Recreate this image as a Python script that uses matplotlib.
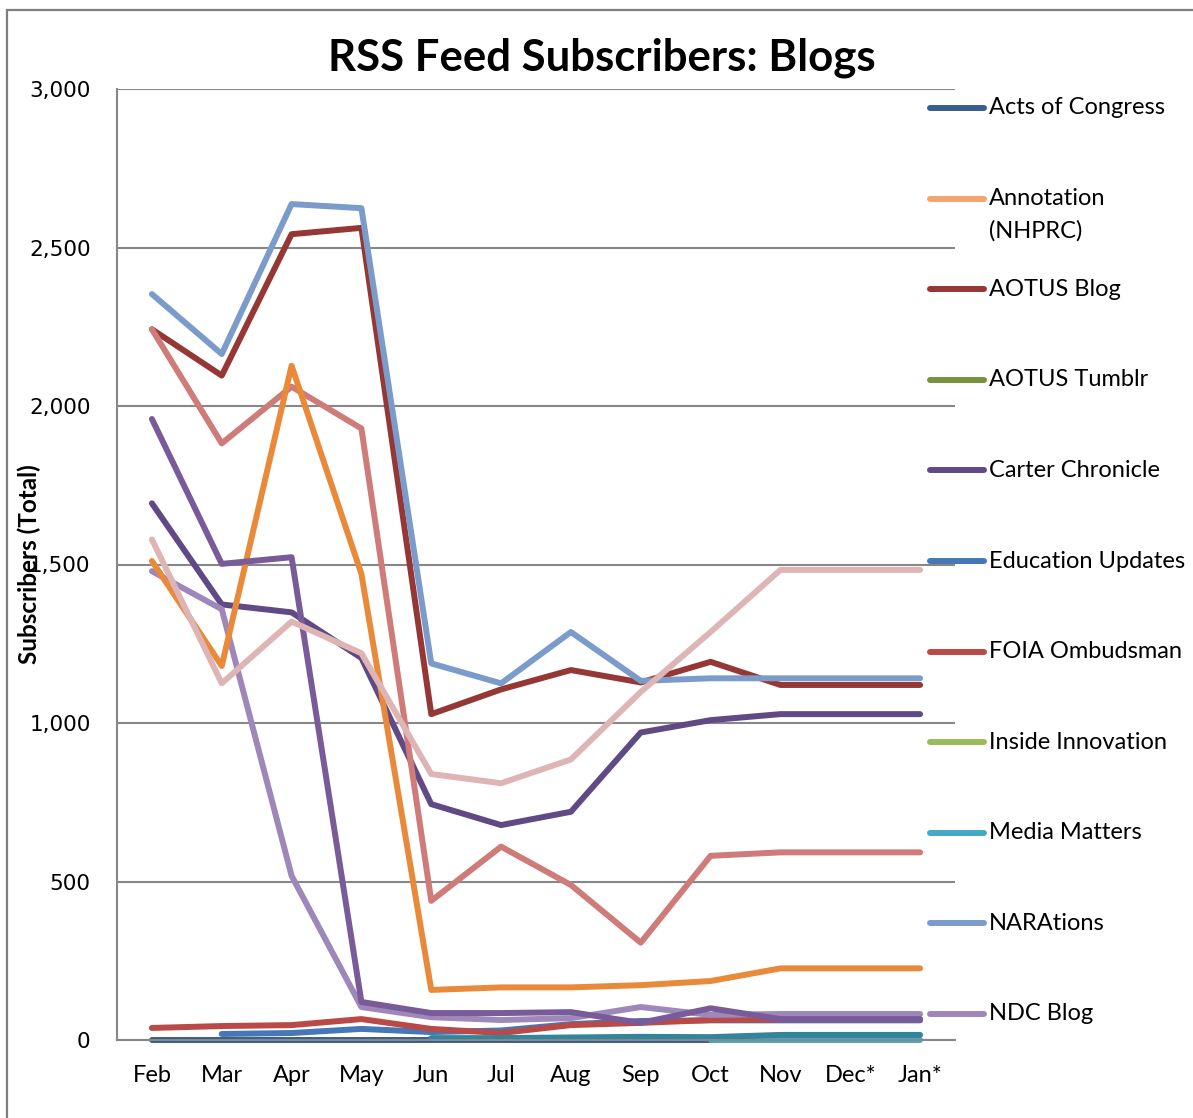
import numpy as np
import matplotlib
matplotlib.use("Agg")
import matplotlib.pyplot as plt
from matplotlib.lines import Line2D
from matplotlib.patches import Rectangle
from matplotlib.ticker import FuncFormatter

nan = np.nan
months = ["Feb", "Mar", "Apr", "May", "Jun", "Jul", "Aug", "Sep", "Oct", "Nov", "Dec*", "Jan*"]

# Legend-listed series
acts_of_congress = [0, 0, 0, 0, 0, 0, 0, 0, 0, nan, nan, nan]
annotation_nhprc = [nan] * 12
aotus_blog = [2242, 2096, 2542, 2562, 1028, 1106, 1167, 1128, 1193, 1120, 1120, 1120]
aotus_tumblr = [nan] * 12
carter_chronicle = [1693, 1374, 1349, 1205, 744, 678, 720, 970, 1009, 1028, 1028, 1028]
education_updates = [nan, 19, 22, 35, 25, 30, 50, 60, 62, 62, 62, 62]
foia_ombudsman = [38, 44, 47, 66, 35, 22, 47, 54, 63, 65, 65, 65]
inside_innovation = [nan] * 12
media_matters = [nan, nan, nan, nan, nan, nan, nan, nan, 0, 0, 0, 0]
narations = [2353, 2164, 2637, 2624, 1188, 1125, 1287, 1133, 1141, 1141, 1141, 1141]
ndc_blog = [1479, 1359, 518, 104, 72, 63, 69, 104, 79, 82, 82, 82]
# Series whose legend entries fall outside the visible legend area
unlisted_a = [2242, 1882, 2061, 1929, 439, 610, 489, 307, 581, 592, 592, 592]
unlisted_b = [1511, 1180, 2127, 1470, 158, 166, 166, 173, 186, 226, 226, 226]
unlisted_c = [1959, 1502, 1523, 120, 85, 85, 88, 54, 100, 66, 66, 66]
unlisted_d = [1579, 1125, 1320, 1220, 839, 810, 885, 1098, 1287, 1483, 1483, 1483]
unlisted_e = [nan, nan, nan, nan, 6, 6, 8, 10, 9, 16, 16, 16]

series = [
    ("Acts of Congress", acts_of_congress, "#3A5F8E"),
    ("Annotation\n(NHPRC)", annotation_nhprc, "#F5A46E"),
    ("AOTUS Blog", aotus_blog, "#953735"),
    ("AOTUS Tumblr", aotus_tumblr, "#76923C"),
    ("Carter Chronicle", carter_chronicle, "#5F4A86"),
    ("Education Updates", education_updates, "#4677B6"),
    ("FOIA Ombudsman", foia_ombudsman, "#BA4A47"),
    ("Inside Innovation", inside_innovation, "#9BBB59"),
    ("Media Matters", media_matters, "#46A9C4"),
    ("NARAtions", narations, "#7B9CCB"),
    ("NDC Blog", ndc_blog, "#9D88B9"),
    ("unlisted a", unlisted_a, "#CE7B79"),
    ("unlisted b", unlisted_b, "#E98A3A"),
    ("unlisted c", unlisted_c, "#7A5B9A"),
    ("unlisted d", unlisted_d, "#DDB5B4"),
    ("unlisted e", unlisted_e, "#31859C"),
]

W, H = 1193, 1118
fig = plt.figure(figsize=(W / 100, H / 100), dpi=100)
fig.patch.set_facecolor("white")

ax_l, ax_r, ax_t, ax_b = 117, 955, 89, 1040
ax = fig.add_axes([ax_l / W, 1 - ax_b / H, (ax_r - ax_l) / W, (ax_b - ax_t) / H])

x = np.arange(len(months))
lw = 4.3
for name, vals, col in series:
    ax.plot(x, vals, color=col, lw=lw, solid_capstyle="round",
            solid_joinstyle="round", clip_on=False)

ax.set_xlim(-0.5, 11.5)
ax.set_ylim(0, 3000)
ax.set_yticks(np.arange(0, 3001, 500))
ax.yaxis.set_major_formatter(FuncFormatter(lambda v, p: f"{int(v):,}"))
ax.set_xticks(x)
ax.set_xticklabels(months, family="Lato", fontsize=17)
ax.tick_params(axis="y", length=0, pad=19, labelsize=15.5)
ax.tick_params(axis="x", length=0, pad=18)
ax.yaxis.grid(True, color="#878787", lw=1.5)
ax.set_axisbelow(True)
for s in ["top", "right"]:
    ax.spines[s].set_visible(False)
for s in ["left", "bottom"]:
    ax.spines[s].set_color("#878787")
    ax.spines[s].set_linewidth(1.5)

ax.set_ylabel("Subscribers (Total)", family="Lato", fontweight="bold", fontsize=17.5)
ax.yaxis.set_label_coords((41 - ax_l) / (ax_r - ax_l), 0.5)

fig.text(602 / W, 1 - 58 / H, "RSS Feed Subscribers: Blogs", family="Lato",
         fontweight="bold", fontsize=31.5, ha="center", va="center")

# Legend (manually laid out, as in the original)
for i, (name, vals, col) in enumerate(series[:11]):
    y = 108 + i * 90.6
    fig.add_artist(Line2D([930 / W, 984 / W], [1 - y / H, 1 - y / H], color=col, lw=lw,
                          solid_capstyle="round", transform=fig.transFigure))
    for k, line in enumerate(name.split("\n")):
        fig.text(989 / W, 1 - (y + k * 32) / H, line, family="Lato", fontsize=17,
                 ha="left", va="center")

fig.add_artist(Rectangle((7 / W, -0.05), 1.2, 1 - 10 / H + 0.05, transform=fig.transFigure,
                         fill=False, edgecolor="#7F7F7F", lw=1.6))

fig.savefig("out.png", dpi=100)
